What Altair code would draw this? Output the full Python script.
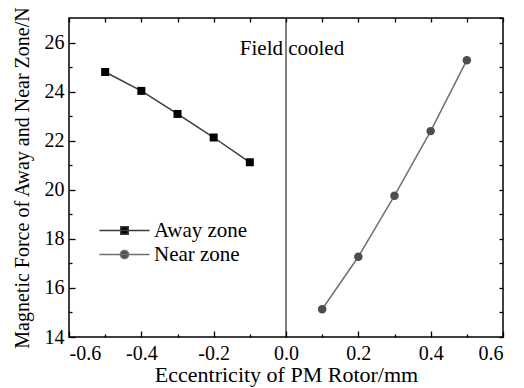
import altair as alt
import pandas as pd

# ---- data ----
series = ["Away zone", "Near zone"]
away_x = [-0.5, -0.4, -0.3, -0.2, -0.1]
away_y = [24.80, 24.03, 23.09, 22.13, 21.12]
near_x = [0.1, 0.2, 0.3, 0.4, 0.5]
near_y = [15.13, 17.27, 19.76, 22.39, 25.28]

x_major = [-0.6, -0.4, -0.2, 0.0, 0.2, 0.4, 0.6]
x_minor = [-0.5, -0.3, -0.1, 0.1, 0.3, 0.5]
x_all = [-0.6, -0.5, -0.4, -0.3, -0.2, -0.1, 0.0, 0.1, 0.2, 0.3, 0.4, 0.5, 0.6]
y_major = [14, 16, 18, 20, 22, 24, 26]
y_minor = [15, 17, 19, 21, 23, 25]
y_all = [14, 15, 16, 17, 18, 19, 20, 21, 22, 23, 24, 25, 26, 27]

note_text = ["Field cooled"]
note_x = [0.0]
note_y = [25.75]
divider_x = [0.0]

x_title = "Eccentricity of PM Rotor/mm"
y_title = "Magnetic Force of Away and Near Zone/N"

df = pd.DataFrame({
    "x": away_x + near_x,
    "y": away_y + near_y,
    "series": [series[0]] * len(away_x) + [series[1]] * len(near_x),
})

FONT = "Liberation Serif"
xs = alt.Scale(domain=[-0.6, 0.6], nice=False, zero=False)
ys = alt.Scale(domain=[14, 27], nice=False, zero=False)
LBL = "replace(format(datum.value, '.1f'), '\u2212', '-')"

base = alt.Chart(df)

# main labelled axes (major ticks pointing inward)
axes_main = base.mark_point(opacity=0).encode(
    x=alt.X("x:Q", scale=xs, title=x_title, axis=alt.Axis(
        orient="bottom", values=x_major, tickSize=6, offset=-6, domain=False,
        labelExpr=LBL, labelPadding=6, titlePadding=1, titleFontSize=22, grid=False)),
    y=alt.Y("y:Q", scale=ys, title=y_title, axis=alt.Axis(
        orient="left", values=y_major, tickSize=6, offset=-6, domain=False,
        labelPadding=5, titlePadding=12, grid=False)),
)

# minor ticks bottom / left
axes_minor = base.mark_point(opacity=0).encode(
    x=alt.X("x:Q", scale=xs, title=None, axis=alt.Axis(
        orient="bottom", values=x_minor, tickSize=3, offset=-3, domain=False,
        labels=False, grid=False)),
    y=alt.Y("y:Q", scale=ys, title=None, axis=alt.Axis(
        orient="left", values=y_minor, tickSize=3, offset=-3, domain=False,
        labels=False, grid=False)),
)

# mirrored ticks top / right
axes_mirror = base.mark_point(opacity=0).encode(
    x=alt.X("x:Q", scale=xs, title=None, axis=alt.Axis(
        orient="top", values=x_all, tickSize=4, offset=-4, domain=False,
        labels=False, grid=False)),
    y=alt.Y("y:Q", scale=ys, title=None, axis=alt.Axis(
        orient="right", values=y_all, tickSize=4, offset=-4, domain=False,
        labels=False, grid=False)),
)

X = alt.X("x:Q", scale=xs, axis=None)
Y = alt.Y("y:Q", scale=ys, axis=None)

away = base.transform_filter(alt.datum.series == series[0])
near = base.transform_filter(alt.datum.series == series[1])

away_line = away.mark_line(color="#3c3c3c", strokeWidth=1.5).encode(x=X, y=Y)
away_pts = away.mark_point(shape="square", filled=True, color="black", size=64, opacity=1).encode(x=X, y=Y)
near_line = near.mark_line(color="#707070", strokeWidth=1.5).encode(x=X, y=Y)
near_pts = near.mark_point(shape="circle", filled=True, color="#4d4d4d", size=72, opacity=1).encode(x=X, y=Y)

divider = alt.Chart(pd.DataFrame({"x": divider_x})).mark_rule(color="black", strokeWidth=1).encode(
    x=alt.X("x:Q", scale=xs, axis=None))

note = alt.Chart(pd.DataFrame({"x": note_x, "y": note_y, "t": note_text})).mark_text(
    font=FONT, fontSize=21, color="black", align="center", baseline="middle", dx=6
).encode(x=X, y=Y, text="t:N")

# legend: symbol = line segment with marker in the middle
sq_path = "M-6.7,0H6.7M-1,-1H1V1H-1Z"
ci_path = "M-6.7,0H6.7M-1.1,0A1.1,1.1,0,1,1,1.1,0A1.1,1.1,0,1,1,-1.1,0Z"
leg = alt.Legend(title=None, orient="none", legendX=45, legendY=202,
                 labelFont=FONT, labelFontSize=21, labelColor="black",
                 symbolSize=56, symbolStrokeWidth=1.5, symbolOpacity=1,
                 labelOffset=19, rowPadding=2, padding=0)
legend_layer = base.mark_point(opacity=0, filled=True).encode(
    x=X, y=Y,
    shape=alt.Shape("series:N", scale=alt.Scale(domain=series, range=[sq_path, ci_path]), legend=leg),
    fill=alt.Fill("series:N", scale=alt.Scale(domain=series, range=["black", "#4d4d4d"]), legend=leg),
    stroke=alt.Stroke("series:N", scale=alt.Scale(domain=series, range=["#3c3c3c", "#707070"]), legend=leg),
)

chart = alt.layer(
    axes_main, axes_minor, axes_mirror,
    divider, away_line, near_line, away_pts, near_pts, note, legend_layer,
).resolve_axis(x="independent", y="independent").properties(
    width=434, height=319,
    background="white",
    autosize=alt.AutoSizeParams(type="none"),
    padding={"left": 69, "top": 18, "right": 21, "bottom": 51},
).configure_view(stroke="black", strokeWidth=1.5).configure_axis(
    labelFont=FONT, titleFont=FONT, labelFontSize=20, titleFontSize=20,
    labelColor="black", titleColor="black", tickColor="black", tickWidth=1.3,
    titleFontWeight="normal",
)

chart.save("out.html", embed_options={"renderer": "svg", "actions": False})
